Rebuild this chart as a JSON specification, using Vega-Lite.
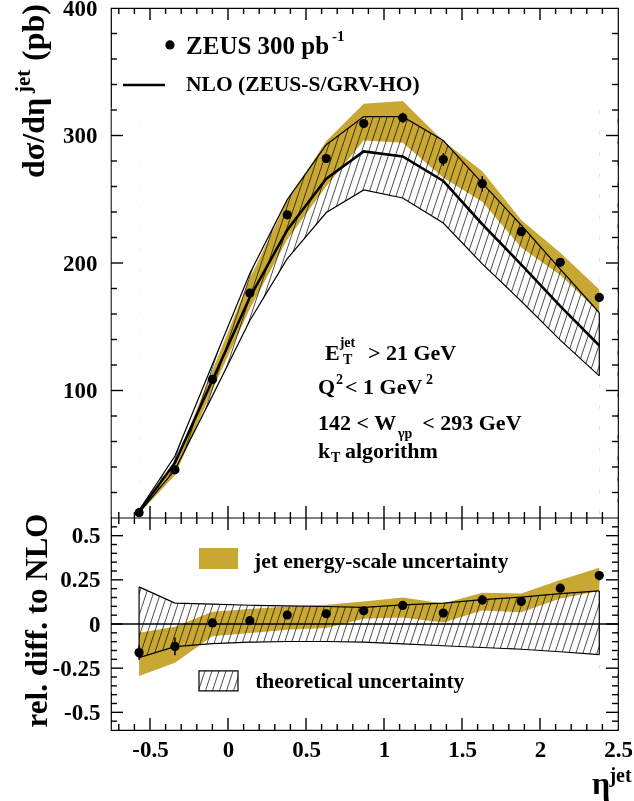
{
"$schema": "https://vega.github.io/schema/vega-lite/v6.json",
"width": 507,
"height": 722,
"autosize": {"type": "none"},
"padding": {"left": 111, "top": 8, "right": 16, "bottom": 71},
"background": "white",
"config": {
  "view": {"stroke": "black", "strokeWidth": 1.2},
  "font": "Liberation Serif",
  "text": {"font": "Liberation Serif", "fontWeight": "bold", "color": "black", "align": "left", "baseline": "alphabetic"},
  "axis": {"domain": false, "ticks": false, "grid": false,
    "labelFont": "Liberation Serif", "labelFontWeight": "bold", "labelFontSize": 23, "labelColor": "black",
    "labelFlush": false, "labelOverlap": false, "labelBound": false, "zindex": 1,
    "titleFont": "Liberation Serif", "titleFontWeight": "bold", "titleFontSize": 32, "titleColor": "black"}
},
"datasets": {
  "pts": [
    {"eta": -0.57, "sig": 4.2, "err": 0.6, "nlo": 5.0, "tlo": 4.1, "thi": 6.1, "elo": 3.5, "ehi": 4.8, "rel": -0.162, "rerr": 0.04, "rtlo": -0.19, "rthi": 0.21, "relo": -0.295, "rehi": -0.05},
    {"eta": -0.34, "sig": 37.8, "err": 1.5, "nlo": 43.4, "tlo": 37.8, "thi": 48.6, "elo": 33.6, "ehi": 42.7, "rel": -0.127, "rerr": 0.05, "rtlo": -0.128, "rthi": 0.118, "relo": -0.22, "rehi": -0.015},
    {"eta": -0.10, "sig": 108.7, "err": 2, "nlo": 108.0, "tlo": 95.8, "thi": 120.4, "elo": 100.4, "ehi": 115.6, "rel": 0.006, "rerr": 0.02, "rtlo": -0.111, "rthi": 0.113, "relo": -0.069, "rehi": 0.069},
    {"eta": 0.14, "sig": 176.4, "err": 2, "nlo": 173.1, "tlo": 154.9, "thi": 191.8, "elo": 164.1, "ehi": 188.0, "rel": 0.019, "rerr": 0.012, "rtlo": -0.103, "rthi": 0.106, "relo": -0.051, "rehi": 0.085},
    {"eta": 0.38, "sig": 237.8, "err": 2.5, "nlo": 226.0, "tlo": 203.4, "thi": 249.7, "elo": 218.5, "ehi": 248.6, "rel": 0.051, "rerr": 0.011, "rtlo": -0.099, "rthi": 0.103, "relo": -0.033, "rehi": 0.099},
    {"eta": 0.63, "sig": 281.9, "err": 3, "nlo": 266.2, "tlo": 239.6, "thi": 292.8, "elo": 260.1, "ehi": 295.7, "rel": 0.058, "rerr": 0.011, "rtlo": -0.099, "rthi": 0.099, "relo": -0.023, "rehi": 0.109},
    {"eta": 0.87, "sig": 309.4, "err": 3.5, "nlo": 287.5, "tlo": 257.3, "thi": 314.8, "elo": 296.1, "ehi": 324.9, "rel": 0.075, "rerr": 0.012, "rtlo": -0.103, "rthi": 0.094, "relo": 0.03, "rehi": 0.128},
    {"eta": 1.12, "sig": 313.9, "err": 4, "nlo": 283.6, "tlo": 251.0, "thi": 314.8, "elo": 294.4, "ehi": 327.0, "rel": 0.105, "rerr": 0.014, "rtlo": -0.113, "rthi": 0.108, "relo": 0.037, "rehi": 0.15},
    {"eta": 1.38, "sig": 281.1, "err": 5, "nlo": 264.4, "tlo": 231.4, "thi": 296.1, "elo": 266.8, "ehi": 295.6, "rel": 0.062, "rerr": 0.019, "rtlo": -0.123, "rthi": 0.118, "relo": 0.009, "rehi": 0.116},
    {"eta": 1.63, "sig": 262.2, "err": 6, "nlo": 230.4, "tlo": 199.3, "thi": 262.7, "elo": 248.1, "ehi": 271.9, "rel": 0.136, "rerr": 0.026, "rtlo": -0.133, "rthi": 0.138, "relo": 0.076, "rehi": 0.177},
    {"eta": 1.88, "sig": 224.6, "err": 3.5, "nlo": 198.8, "tlo": 170.0, "thi": 229.6, "elo": 212.1, "ehi": 233.8, "rel": 0.128, "rerr": 0.018, "rtlo": -0.143, "rthi": 0.152, "relo": 0.066, "rehi": 0.173},
    {"eta": 2.13, "sig": 200.5, "err": 3, "nlo": 166.1, "tlo": 139.5, "thi": 195.2, "elo": 190.5, "ehi": 208.1, "rel": 0.203, "rerr": 0.018, "rtlo": -0.157, "rthi": 0.172, "relo": 0.145, "rehi": 0.249},
    {"eta": 2.38, "sig": 173.0, "err": 3.5, "nlo": 135.3, "tlo": 111.5, "thi": 161.0, "elo": 161.0, "ehi": 179.3, "rel": 0.274, "rerr": 0.026, "rtlo": -0.173, "rthi": 0.187, "relo": 0.187, "rehi": 0.319}
  ],
  "hatch": [
    {"a": -1.45}, {"a": -1.405}, {"a": -1.36}, {"a": -1.315}, {"a": -1.27}, {"a": -1.225}, {"a": -1.18}, {"a": -1.135}, {"a": -1.09}, {"a": -1.045},
    {"a": -1.0}, {"a": -0.955}, {"a": -0.91}, {"a": -0.865}, {"a": -0.82}, {"a": -0.775}, {"a": -0.73}, {"a": -0.685}, {"a": -0.64}, {"a": -0.595},
    {"a": -0.55}, {"a": -0.505}, {"a": -0.46}, {"a": -0.415}, {"a": -0.37}, {"a": -0.325}, {"a": -0.28}, {"a": -0.235}, {"a": -0.19}, {"a": -0.145},
    {"a": -0.1}, {"a": -0.055}, {"a": -0.01}, {"a": 0.035}, {"a": 0.08}, {"a": 0.125}, {"a": 0.17}, {"a": 0.215}, {"a": 0.26}, {"a": 0.305},
    {"a": 0.35}, {"a": 0.395}, {"a": 0.44}, {"a": 0.485}, {"a": 0.53}, {"a": 0.575}, {"a": 0.62}, {"a": 0.665}, {"a": 0.71}, {"a": 0.755},
    {"a": 0.8}, {"a": 0.845}, {"a": 0.89}, {"a": 0.935}, {"a": 0.98}, {"a": 1.025}, {"a": 1.07}, {"a": 1.115}, {"a": 1.16}, {"a": 1.205},
    {"a": 1.25}, {"a": 1.295}, {"a": 1.34}, {"a": 1.385}, {"a": 1.43}, {"a": 1.475}, {"a": 1.52}, {"a": 1.565}, {"a": 1.61}, {"a": 1.655},
    {"a": 1.7}, {"a": 1.745}, {"a": 1.79}, {"a": 1.835}, {"a": 1.88}, {"a": 1.925}, {"a": 1.97}, {"a": 2.015}, {"a": 2.06}, {"a": 2.105},
    {"a": 2.15}, {"a": 2.195}, {"a": 2.24}, {"a": 2.285}, {"a": 2.33}, {"a": 2.375}, {"a": 2.42}, {"a": 2.465}
  ],
  "xmaj": [{"t": -0.5}, {"t": 0}, {"t": 0.5}, {"t": 1}, {"t": 1.5}, {"t": 2}],
  "xmin": [{"t": -0.7}, {"t": -0.6}, {"t": -0.4}, {"t": -0.3}, {"t": -0.2}, {"t": -0.1}, {"t": 0.1}, {"t": 0.2}, {"t": 0.3}, {"t": 0.4}, {"t": 0.6}, {"t": 0.7}, {"t": 0.8}, {"t": 0.9}, {"t": 1.1}, {"t": 1.2}, {"t": 1.3}, {"t": 1.4}, {"t": 1.6}, {"t": 1.7}, {"t": 1.8}, {"t": 1.9}, {"t": 2.1}, {"t": 2.2}, {"t": 2.3}, {"t": 2.4}],
  "ytmaj": [{"t": 100}, {"t": 200}, {"t": 300}],
  "ytmin": [{"t": 20}, {"t": 40}, {"t": 60}, {"t": 80}, {"t": 120}, {"t": 140}, {"t": 160}, {"t": 180}, {"t": 220}, {"t": 240}, {"t": 260}, {"t": 280}, {"t": 320}, {"t": 340}, {"t": 360}, {"t": 380}],
  "ybmaj": [{"t": -0.5}, {"t": -0.25}, {"t": 0}, {"t": 0.25}, {"t": 0.5}],
  "ybmin": [{"t": -0.55}, {"t": -0.45}, {"t": -0.4}, {"t": -0.35}, {"t": -0.3}, {"t": -0.2}, {"t": -0.15}, {"t": -0.1}, {"t": -0.05}, {"t": 0.05}, {"t": 0.1}, {"t": 0.15}, {"t": 0.2}, {"t": 0.3}, {"t": 0.35}, {"t": 0.4}, {"t": 0.45}, {"t": 0.55}]
},
"resolve": {"scale": {"y": "independent"}, "axis": {"x": "independent", "y": "independent"}},
"layer": [
{
  "resolve": {"axis": {"x": "independent", "y": "independent"}},
  "layer": [
    {"data": {"name": "hatch"}, "mark": {"type": "rule", "clip": true, "x2Offset": 135, "color": "#222222", "strokeWidth": 0.8},
     "encoding": {"x": {"field": "a", "type": "quantitative", "scale": {"domain": [-0.75, 2.5], "nice": false, "zero": false}, "axis": null}, "x2": {"field": "a"},
       "y": {"datum": 2, "type": "quantitative", "scale": {"domain": [0, 400], "range": [510, 0], "nice": false, "zero": false}, "axis": null}, "y2": {"datum": 320}}},
    {"data": {"name": "pts"}, "mark": {"type": "area", "color": "white", "opacity": 1},
     "encoding": {"x": {"field": "eta", "type": "quantitative", "axis": null},
       "y": {"field": "thi", "type": "quantitative", "axis": null}, "y2": {"datum": 322}}},
    {"data": {"name": "pts"}, "mark": {"type": "area", "color": "white", "opacity": 1},
     "encoding": {"x": {"field": "eta", "type": "quantitative", "axis": null},
       "y": {"field": "tlo", "type": "quantitative", "axis": null}, "y2": {"datum": 1}}},
    {"data": {"values": [{}]}, "mark": {"type": "rect", "color": "white", "opacity": 1},
     "encoding": {"x": {"datum": -0.745, "type": "quantitative", "axis": null}, "x2": {"datum": -0.57},
       "y": {"datum": 1, "type": "quantitative", "axis": null}, "y2": {"datum": 322}}},
    {"data": {"values": [{}]}, "mark": {"type": "rect", "color": "white", "opacity": 1},
     "encoding": {"x": {"datum": 2.38, "type": "quantitative", "axis": null}, "x2": {"datum": 2.495},
       "y": {"datum": 1, "type": "quantitative", "axis": null}, "y2": {"datum": 322}}},
    {"data": {"name": "pts"}, "mark": {"type": "area", "color": "#C8A832", "opacity": 1, "blend": "multiply"},
     "encoding": {"x": {"field": "eta", "type": "quantitative", "axis": null},
       "y": {"field": "elo", "type": "quantitative",
         "axis": {"orient": "left", "values": [100, 200, 300, 400], "labelPadding": 14, "title": null, "zindex": 1}},
       "y2": {"field": "ehi"}}},
    {"data": {"name": "pts"}, "mark": {"type": "line", "color": "black", "strokeWidth": 1.2},
     "encoding": {"x": {"field": "eta", "type": "quantitative", "axis": null},
       "y": {"field": "thi", "type": "quantitative", "axis": {"orient": "right", "labels": false, "title": null}}}},
    {"data": {"name": "pts"}, "mark": {"type": "line", "color": "black", "strokeWidth": 1.2},
     "encoding": {"x": {"field": "eta", "type": "quantitative", "axis": null}, "y": {"field": "tlo", "type": "quantitative", "axis": null}}},
    {"data": {"name": "pts"}, "transform": [{"filter": "datum.eta > 2.3"}], "mark": {"type": "rule", "color": "black", "strokeWidth": 1.2},
     "encoding": {"x": {"field": "eta", "type": "quantitative", "axis": null}, "y": {"field": "tlo", "type": "quantitative", "axis": null}, "y2": {"field": "thi"}}},
    {"data": {"name": "pts"}, "mark": {"type": "line", "color": "black", "strokeWidth": 2.6},
     "encoding": {"x": {"field": "eta", "type": "quantitative", "axis": null}, "y": {"field": "nlo", "type": "quantitative", "axis": null}}},
    {"data": {"values": [{}]}, "mark": {"type": "rule", "color": "black", "strokeWidth": 1.2},
     "encoding": {"y": {"datum": 0, "type": "quantitative", "axis": null}}},
    {"data": {"name": "ytmaj"}, "mark": {"type": "rect", "color": "black", "opacity": 1, "yOffset": -0.7, "y2Offset": 0.7},
     "encoding": {"x": {"datum": -0.75, "type": "quantitative", "axis": null}, "x2": {"datum": -0.673}, "y": {"field": "t", "type": "quantitative", "axis": null}, "y2": {"field": "t"}}},
    {"data": {"name": "ytmaj"}, "mark": {"type": "rect", "color": "black", "opacity": 1, "yOffset": -0.7, "y2Offset": 0.7},
     "encoding": {"x": {"datum": 2.423, "type": "quantitative", "axis": null}, "x2": {"datum": 2.5}, "y": {"field": "t", "type": "quantitative", "axis": null}, "y2": {"field": "t"}}},
    {"data": {"name": "ytmin"}, "mark": {"type": "rect", "color": "black", "opacity": 1, "yOffset": -0.7, "y2Offset": 0.7},
     "encoding": {"x": {"datum": -0.75, "type": "quantitative", "axis": null}, "x2": {"datum": -0.712}, "y": {"field": "t", "type": "quantitative", "axis": null}, "y2": {"field": "t"}}},
    {"data": {"name": "ytmin"}, "mark": {"type": "rect", "color": "black", "opacity": 1, "yOffset": -0.7, "y2Offset": 0.7},
     "encoding": {"x": {"datum": 2.462, "type": "quantitative", "axis": null}, "x2": {"datum": 2.5}, "y": {"field": "t", "type": "quantitative", "axis": null}, "y2": {"field": "t"}}},
    {"data": {"name": "xmaj"}, "mark": {"type": "rect", "color": "black", "opacity": 1, "xOffset": -0.7, "x2Offset": 0.7},
     "encoding": {"x": {"field": "t", "type": "quantitative", "axis": null}, "x2": {"field": "t"}, "y": {"datum": 0, "type": "quantitative", "axis": null}, "y2": {"datum": 9.41}}},
    {"data": {"name": "xmaj"}, "mark": {"type": "rect", "color": "black", "opacity": 1, "xOffset": -0.7, "x2Offset": 0.7},
     "encoding": {"x": {"field": "t", "type": "quantitative", "axis": null}, "x2": {"field": "t"}, "y": {"datum": 390.59, "type": "quantitative", "axis": null}, "y2": {"datum": 400}}},
    {"data": {"name": "xmin"}, "mark": {"type": "rect", "color": "black", "opacity": 1, "xOffset": -0.7, "x2Offset": 0.7},
     "encoding": {"x": {"field": "t", "type": "quantitative", "axis": null}, "x2": {"field": "t"}, "y": {"datum": 0, "type": "quantitative", "axis": null}, "y2": {"datum": 4.7}}},
    {"data": {"name": "xmin"}, "mark": {"type": "rect", "color": "black", "opacity": 1, "xOffset": -0.7, "x2Offset": 0.7},
     "encoding": {"x": {"field": "t", "type": "quantitative", "axis": null}, "x2": {"field": "t"}, "y": {"datum": 395.3, "type": "quantitative", "axis": null}, "y2": {"datum": 400}}},
    {"data": {"name": "pts"}, "mark": {"type": "errorbar", "ticks": false, "rule": {"color": "black", "strokeWidth": 1.5}},
     "encoding": {"x": {"field": "eta", "type": "quantitative", "axis": null}, "y": {"field": "sig", "type": "quantitative", "axis": null}, "yError": {"field": "err"}}},
    {"data": {"name": "pts"}, "mark": {"type": "point", "shape": "circle", "filled": true, "size": 85, "color": "black", "opacity": 1},
     "encoding": {"x": {"field": "eta", "type": "quantitative", "axis": null}, "y": {"field": "sig", "type": "quantitative", "axis": null}}},
    {"data": {"values": [{}]}, "mark": {"type": "point", "shape": "circle", "filled": true, "size": 85, "color": "black", "opacity": 1},
     "encoding": {"x": {"datum": -0.372, "type": "quantitative", "axis": null}, "y": {"datum": 371, "type": "quantitative", "axis": null}}},
    {"data": {"values": [{}]}, "mark": {"type": "rule", "color": "black", "strokeWidth": 2.6},
     "encoding": {"x": {"datum": -0.673, "type": "quantitative", "axis": null}, "x2": {"datum": -0.404}, "y": {"datum": 339.6, "type": "quantitative", "axis": null}}},
    {"data": {"values": [{}]}, "mark": {"type": "text", "text": "ZEUS 300 pb", "fontSize": 25},
     "encoding": {"x": {"datum": -0.269, "type": "quantitative", "axis": null}, "y": {"datum": 363.9, "type": "quantitative", "axis": null}}},
    {"data": {"values": [{}]}, "mark": {"type": "text", "text": "-1", "fontSize": 15},
     "encoding": {"x": {"datum": 0.667, "type": "quantitative", "axis": null}, "y": {"datum": 374.1, "type": "quantitative", "axis": null}}},
    {"data": {"values": [{}]}, "mark": {"type": "text", "text": "NLO (ZEUS-S/GRV-HO)", "fontSize": 21.5},
     "encoding": {"x": {"datum": -0.269, "type": "quantitative", "axis": null}, "y": {"datum": 334.9, "type": "quantitative", "axis": null}}},
    {"data": {"values": [{}]}, "mark": {"type": "text", "text": "E", "fontSize": 22},
     "encoding": {"x": {"datum": 0.622, "type": "quantitative", "axis": null}, "y": {"datum": 123.9, "type": "quantitative", "axis": null}}},
    {"data": {"values": [{}]}, "mark": {"type": "text", "text": "jet", "fontSize": 14},
     "encoding": {"x": {"datum": 0.716, "type": "quantitative", "axis": null}, "y": {"datum": 134.1, "type": "quantitative", "axis": null}}},
    {"data": {"values": [{}]}, "mark": {"type": "text", "text": "T", "fontSize": 14},
     "encoding": {"x": {"datum": 0.737, "type": "quantitative", "axis": null}, "y": {"datum": 120.8, "type": "quantitative", "axis": null}}},
    {"data": {"values": [{}]}, "mark": {"type": "text", "text": "> 21 GeV", "fontSize": 22},
     "encoding": {"x": {"datum": 0.897, "type": "quantitative", "axis": null}, "y": {"datum": 123.9, "type": "quantitative", "axis": null}}},
    {"data": {"values": [{}]}, "mark": {"type": "text", "text": "Q", "fontSize": 22},
     "encoding": {"x": {"datum": 0.577, "type": "quantitative", "axis": null}, "y": {"datum": 97.3, "type": "quantitative", "axis": null}}},
    {"data": {"values": [{}]}, "mark": {"type": "text", "text": "2", "fontSize": 14},
     "encoding": {"x": {"datum": 0.692, "type": "quantitative", "axis": null}, "y": {"datum": 105.1, "type": "quantitative", "axis": null}}},
    {"data": {"values": [{}]}, "mark": {"type": "text", "text": "< 1 GeV", "fontSize": 22},
     "encoding": {"x": {"datum": 0.75, "type": "quantitative", "axis": null}, "y": {"datum": 97.3, "type": "quantitative", "axis": null}}},
    {"data": {"values": [{}]}, "mark": {"type": "text", "text": "2", "fontSize": 14},
     "encoding": {"x": {"datum": 1.27, "type": "quantitative", "axis": null}, "y": {"datum": 105.1, "type": "quantitative", "axis": null}}},
    {"data": {"values": [{}]}, "mark": {"type": "text", "text": "142 < W", "fontSize": 22},
     "encoding": {"x": {"datum": 0.577, "type": "quantitative", "axis": null}, "y": {"datum": 69.0, "type": "quantitative", "axis": null}}},
    {"data": {"values": [{}]}, "mark": {"type": "text", "text": "γp", "fontSize": 14},
     "encoding": {"x": {"datum": 1.09, "type": "quantitative", "axis": null}, "y": {"datum": 62.7, "type": "quantitative", "axis": null}}},
    {"data": {"values": [{}]}, "mark": {"type": "text", "text": "< 293 GeV", "fontSize": 22},
     "encoding": {"x": {"datum": 1.245, "type": "quantitative", "axis": null}, "y": {"datum": 69.0, "type": "quantitative", "axis": null}}},
    {"data": {"values": [{}]}, "mark": {"type": "text", "text": "k", "fontSize": 22},
     "encoding": {"x": {"datum": 0.577, "type": "quantitative", "axis": null}, "y": {"datum": 47.1, "type": "quantitative", "axis": null}}},
    {"data": {"values": [{}]}, "mark": {"type": "text", "text": "T", "fontSize": 14},
     "encoding": {"x": {"datum": 0.66, "type": "quantitative", "axis": null}, "y": {"datum": 43.9, "type": "quantitative", "axis": null}}},
    {"data": {"values": [{}]}, "mark": {"type": "text", "text": "algorithm", "fontSize": 22},
     "encoding": {"x": {"datum": 0.75, "type": "quantitative", "axis": null}, "y": {"datum": 47.1, "type": "quantitative", "axis": null}}},
    {"data": {"values": [{}]}, "mark": {"type": "text", "text": "dσ/dη", "fontSize": 32, "angle": 270, "dy": -67},
     "encoding": {"x": {"datum": -0.75, "type": "quantitative", "axis": null}, "y": {"datum": 266.7, "type": "quantitative", "axis": null}}},
    {"data": {"values": [{}]}, "mark": {"type": "text", "text": "jet", "fontSize": 21, "angle": 270, "dy": -81},
     "encoding": {"x": {"datum": -0.75, "type": "quantitative", "axis": null}, "y": {"datum": 333.3, "type": "quantitative", "axis": null}}},
    {"data": {"values": [{}]}, "mark": {"type": "text", "text": "(pb)", "fontSize": 32, "angle": 270, "dy": -67},
     "encoding": {"x": {"datum": -0.75, "type": "quantitative", "axis": null}, "y": {"datum": 358.5, "type": "quantitative", "axis": null}}}
  ]
},
{
  "resolve": {"axis": {"x": "independent", "y": "independent"}},
  "layer": [
    {"data": {"name": "hatch"}, "mark": {"type": "rule", "clip": true, "x2Offset": 36.7, "color": "#222222", "strokeWidth": 0.8},
     "encoding": {"x": {"field": "a", "type": "quantitative", "scale": {"domain": [-0.75, 2.5], "nice": false, "zero": false}, "axis": null}, "x2": {"field": "a"},
       "y": {"datum": -0.379, "type": "quantitative", "scale": {"domain": [-0.6, 0.6], "range": [722, 510], "nice": false, "zero": false}, "axis": null}, "y2": {"datum": 0.25}}},
    {"data": {"name": "pts"}, "mark": {"type": "area", "color": "white", "opacity": 1},
     "encoding": {"x": {"field": "eta", "type": "quantitative", "axis": null},
       "y": {"field": "rthi", "type": "quantitative", "axis": null}, "y2": {"datum": 0.26}}},
    {"data": {"name": "pts"}, "mark": {"type": "area", "color": "white", "opacity": 1},
     "encoding": {"x": {"field": "eta", "type": "quantitative", "axis": null},
       "y": {"field": "rtlo", "type": "quantitative", "axis": null}, "y2": {"datum": -0.267}}},
    {"data": {"values": [{}]}, "mark": {"type": "rect", "color": "white", "opacity": 1},
     "encoding": {"x": {"datum": -0.745, "type": "quantitative", "axis": null}, "x2": {"datum": -0.57},
       "y": {"datum": -0.267, "type": "quantitative", "axis": null}, "y2": {"datum": 0.26}}},
    {"data": {"values": [{}]}, "mark": {"type": "rect", "color": "white", "opacity": 1},
     "encoding": {"x": {"datum": 2.38, "type": "quantitative", "axis": null}, "x2": {"datum": 2.495},
       "y": {"datum": -0.267, "type": "quantitative", "axis": null}, "y2": {"datum": 0.26}}},
    {"data": {"values": [{}]}, "mark": {"type": "rect", "color": "white", "opacity": 1},
     "encoding": {"x": {"datum": -0.745, "type": "quantitative", "axis": null}, "x2": {"datum": -0.186},
       "y": {"datum": -0.385, "type": "quantitative", "axis": null}, "y2": {"datum": -0.265}}},
    {"data": {"values": [{}]}, "mark": {"type": "rect", "color": "white", "opacity": 1},
     "encoding": {"x": {"datum": 0.064, "type": "quantitative", "axis": null}, "x2": {"datum": 2.495},
       "y": {"datum": -0.385, "type": "quantitative", "axis": null}, "y2": {"datum": -0.265}}},
    {"data": {"name": "pts"}, "mark": {"type": "area", "color": "#C8A832", "opacity": 1, "blend": "multiply"},
     "encoding": {"x": {"field": "eta", "type": "quantitative",
         "axis": {"orient": "bottom", "values": [-0.5, 0, 0.5, 1, 1.5, 2, 2.5],
           "labelExpr": "toString(datum.value)", "labelPadding": 8, "title": null, "zindex": 1}},
       "y": {"field": "relo", "type": "quantitative",
         "axis": {"orient": "left", "values": [-0.5, -0.25, 0, 0.25, 0.5],
           "labelExpr": "toString(datum.value)", "labelPadding": 11,
           "title": "rel. diff. to NLO", "titleFontSize": 31, "titleX": -65, "titleY": 612, "titleAngle": 270, "titleAlign": "center", "titleBaseline": "alphabetic", "zindex": 1}},
       "y2": {"field": "rehi"}}},
    {"data": {"values": [{}]}, "mark": {"type": "rect", "color": "#C8A832", "opacity": 1},
     "encoding": {"x": {"datum": -0.186, "type": "quantitative", "axis": null}, "x2": {"datum": 0.064},
       "y": {"datum": 0.312, "type": "quantitative", "axis": null}, "y2": {"datum": 0.43}}},
    {"data": {"values": [{}]}, "mark": {"type": "rect", "fillOpacity": 0, "stroke": "black", "strokeWidth": 1.2},
     "encoding": {"x": {"datum": -0.186, "type": "quantitative", "axis": null}, "x2": {"datum": 0.064},
       "y": {"datum": -0.379, "type": "quantitative", "axis": null}, "y2": {"datum": -0.265}}},
    {"data": {"values": [{}]}, "mark": {"type": "rule", "color": "black", "strokeWidth": 1.5},
     "encoding": {"y": {"datum": 0, "type": "quantitative", "axis": null}}},
    {"data": {"name": "pts"}, "mark": {"type": "line", "color": "black", "strokeWidth": 1.2},
     "encoding": {"x": {"field": "eta", "type": "quantitative", "axis": null},
       "y": {"field": "rthi", "type": "quantitative", "axis": {"orient": "right", "labels": false, "title": null}}}},
    {"data": {"name": "pts"}, "mark": {"type": "line", "color": "black", "strokeWidth": 1.2},
     "encoding": {"x": {"field": "eta", "type": "quantitative", "axis": null}, "y": {"field": "rtlo", "type": "quantitative", "axis": null}}},
    {"data": {"name": "pts"}, "transform": [{"filter": "datum.eta < -0.5 || datum.eta > 2.3"}], "mark": {"type": "rule", "color": "black", "strokeWidth": 1.2},
     "encoding": {"x": {"field": "eta", "type": "quantitative", "axis": null}, "y": {"field": "rtlo", "type": "quantitative", "axis": null}, "y2": {"field": "rthi"}}},
    {"data": {"name": "ybmaj"}, "mark": {"type": "rect", "color": "black", "opacity": 1, "yOffset": -0.7, "y2Offset": 0.7},
     "encoding": {"x": {"datum": -0.75, "type": "quantitative", "axis": null}, "x2": {"datum": -0.673}, "y": {"field": "t", "type": "quantitative", "axis": null}, "y2": {"field": "t"}}},
    {"data": {"name": "ybmaj"}, "mark": {"type": "rect", "color": "black", "opacity": 1, "yOffset": -0.7, "y2Offset": 0.7},
     "encoding": {"x": {"datum": 2.423, "type": "quantitative", "axis": null}, "x2": {"datum": 2.5}, "y": {"field": "t", "type": "quantitative", "axis": null}, "y2": {"field": "t"}}},
    {"data": {"name": "ybmin"}, "mark": {"type": "rect", "color": "black", "opacity": 1, "yOffset": -0.7, "y2Offset": 0.7},
     "encoding": {"x": {"datum": -0.75, "type": "quantitative", "axis": null}, "x2": {"datum": -0.712}, "y": {"field": "t", "type": "quantitative", "axis": null}, "y2": {"field": "t"}}},
    {"data": {"name": "ybmin"}, "mark": {"type": "rect", "color": "black", "opacity": 1, "yOffset": -0.7, "y2Offset": 0.7},
     "encoding": {"x": {"datum": 2.462, "type": "quantitative", "axis": null}, "x2": {"datum": 2.5}, "y": {"field": "t", "type": "quantitative", "axis": null}, "y2": {"field": "t"}}},
    {"data": {"name": "xmaj"}, "mark": {"type": "rect", "color": "black", "opacity": 1, "xOffset": -0.7, "x2Offset": 0.7},
     "encoding": {"x": {"field": "t", "type": "quantitative", "axis": null}, "x2": {"field": "t"}, "y": {"datum": -0.6, "type": "quantitative", "axis": null}, "y2": {"datum": -0.532}}},
    {"data": {"name": "xmaj"}, "mark": {"type": "rect", "color": "black", "opacity": 1, "xOffset": -0.7, "x2Offset": 0.7},
     "encoding": {"x": {"field": "t", "type": "quantitative", "axis": null}, "x2": {"field": "t"}, "y": {"datum": 0.532, "type": "quantitative", "axis": null}, "y2": {"datum": 0.6}}},
    {"data": {"name": "xmin"}, "mark": {"type": "rect", "color": "black", "opacity": 1, "xOffset": -0.7, "x2Offset": 0.7},
     "encoding": {"x": {"field": "t", "type": "quantitative", "axis": null}, "x2": {"field": "t"}, "y": {"datum": 0.566, "type": "quantitative", "axis": null}, "y2": {"datum": 0.6}}},
    {"data": {"name": "xmin"}, "mark": {"type": "rect", "color": "black", "opacity": 1, "xOffset": -0.7, "x2Offset": 0.7},
     "encoding": {"x": {"field": "t", "type": "quantitative", "axis": null}, "x2": {"field": "t"}, "y": {"datum": -0.6, "type": "quantitative", "axis": null}, "y2": {"datum": -0.566}}},
    {"data": {"name": "pts"}, "mark": {"type": "errorbar", "ticks": false, "rule": {"color": "black", "strokeWidth": 1.5}},
     "encoding": {"x": {"field": "eta", "type": "quantitative", "axis": null}, "y": {"field": "rel", "type": "quantitative", "axis": null}, "yError": {"field": "rerr"}}},
    {"data": {"name": "pts"}, "mark": {"type": "point", "shape": "circle", "filled": true, "size": 85, "color": "black", "opacity": 1},
     "encoding": {"x": {"field": "eta", "type": "quantitative", "axis": null}, "y": {"field": "rel", "type": "quantitative", "axis": null}}},
    {"data": {"values": [{}]}, "mark": {"type": "text", "text": "jet energy-scale uncertainty", "fontSize": 21.5},
     "encoding": {"x": {"datum": 0.167, "type": "quantitative", "axis": null}, "y": {"datum": 0.317, "type": "quantitative", "axis": null}}},
    {"data": {"values": [{}]}, "mark": {"type": "text", "text": "theoretical uncertainty", "fontSize": 21.5},
     "encoding": {"x": {"datum": 0.174, "type": "quantitative", "axis": null}, "y": {"datum": -0.362, "type": "quantitative", "axis": null}}},
    {"data": {"values": [{}]}, "mark": {"type": "text", "text": "η", "fontSize": 32},
     "encoding": {"x": {"datum": 2.333, "type": "quantitative", "axis": null}, "y": {"datum": -0.962, "type": "quantitative", "axis": null}}},
    {"data": {"values": [{}]}, "mark": {"type": "text", "text": "jet", "fontSize": 20},
     "encoding": {"x": {"datum": 2.445, "type": "quantitative", "axis": null}, "y": {"datum": -0.894, "type": "quantitative", "axis": null}}}
  ]
}
]
}
